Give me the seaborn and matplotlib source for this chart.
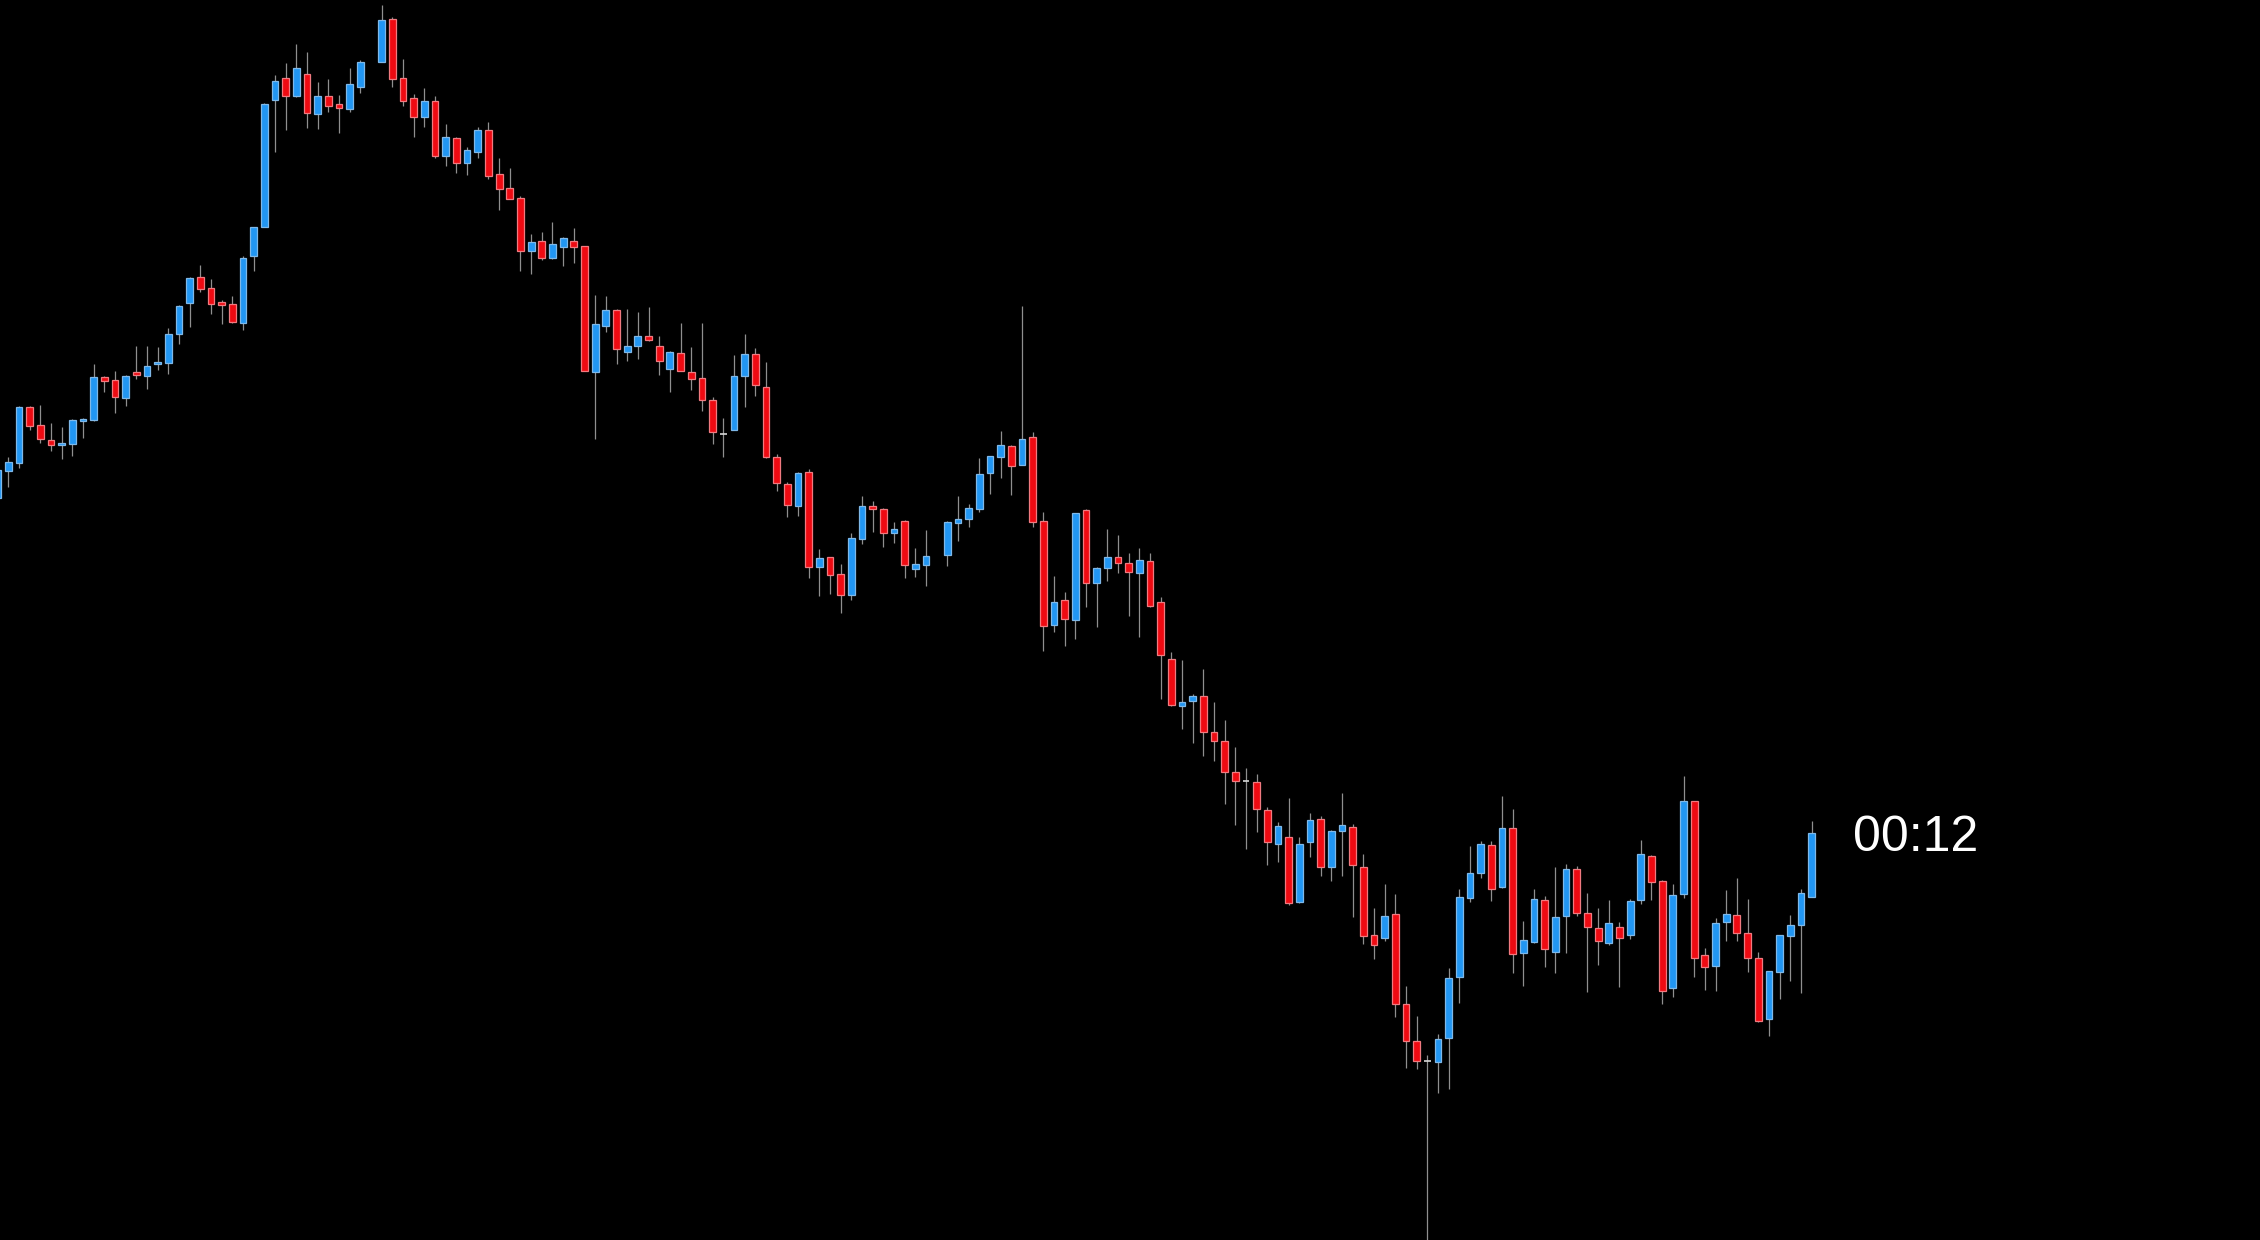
import numpy as np
import pandas as pd
import matplotlib
matplotlib.use("Agg")
import matplotlib.pyplot as plt
import seaborn as sns

# OHLC values (price units); NaN = missing bar
opens = [742, 769, 777, 833, 815, 800, 795, 796, 819, 820, 863, 860, 842, 868, 864, 876, 877, 906, 937, 963,
         952, 938, 936, 917, 984, 1013, 1140, 1162, 1144, 1166, 1126, 1144, 1136, 1131, 1153, np.nan, 1178, 1221, 1162, 1142,
         1123, 1139, 1084, 1102, 1077, 1088, 1110, 1066, 1052, 1042, 989, 999, 982, 993, 999, 994, 868, 914, 930, 888,
         894, 904, 894, 871, 887, 868, 862, 840, 806, 810, 864, 886, 853, 783, 756, 734, 768, 673, 683, 666,
         645, 701, 734, 731, 707, 719, 671, 675, np.nan, 685, 717, 721, 731, 767, 783, 794, 775, 803, 719, 615,
         640, 620, 730, 657, 672, 683, 677, 667, 679, 638, 581, 534, 539, 544, 508, 499, 468, 459, 458, 430,
         396, 403, 338, 398, 421, 373, 409, 413, 373, 305, 302, 326, 236, 199, 179, 178, 202, 263, 342, 367,
         395, 353, 412, 287, 298, 340, 288, 324, 371, 327, 312, 297, 313, 305, 340, 384, 359, 252, 346, 439,
         285, 274, 318, 325, 307, 282, 221, 268, 304, 315, 343]
highs = [773, 783, 834, 834, 835, 817, 813, 821, 822, 876, 864, 869, 865, 894, 894, 893, 912, 935, 963, 975,
         961, 940, 944, 984, 1013, 1137, 1165, 1177, 1196, 1188, 1158, 1161, 1145, 1172, 1180, np.nan, 1235, 1223, 1181, 1146,
         1152, 1144, 1116, 1103, 1093, 1113, 1118, 1082, 1072, 1044, 1006, 1008, 1018, 1003, 1012, 994, 945, 944, 931, 931,
         928, 933, 904, 889, 917, 893, 917, 843, 822, 885, 906, 892, 878, 786, 758, 768, 771, 691, 683, 676,
         707, 744, 739, 732, 718, 720, 692, 710, np.nan, 719, 744, 736, 782, 784, 809, 795, 934, 808, 728, 664,
         648, 727, 731, 673, 711, 705, 687, 692, 687, 643, 588, 580, 546, 571, 538, 520, 493, 472, 466, 433,
         418, 442, 403, 427, 424, 410, 447, 416, 386, 332, 356, 346, 254, 224, 185, 206, 272, 351, 394, 399,
         399, 444, 431, 319, 351, 344, 373, 376, 374, 347, 332, 340, 318, 341, 400, 385, 360, 356, 464, 439,
         292, 322, 350, 362, 341, 288, 269, 305, 325, 351, 419]
lows = [741, 753, 772, 810, 797, 789, 781, 784, 802, 819, 848, 827, 834, 861, 851, 870, 866, 896, 913, 948,
        926, 916, 917, 910, 969, 1013, 1088, 1110, 1143, 1112, 1111, 1128, 1107, 1128, 1147, np.nan, 1178, 1153, 1134, 1103,
        1113, 1082, 1074, 1067, 1065, 1082, 1061, 1030, 1041, 969, 966, 980, 981, 974, 977, 869, 801, 908, 876, 879,
        881, 899, 865, 848, 869, 850, 829, 796, 783, 810, 833, 844, 782, 749, 723, 724, 662, 644, 646, 627,
        640, 696, 708, 693, 697, 662, 663, 654, np.nan, 674, 699, 713, 728, 746, 762, 745, 775, 713, 589, 608,
        594, 601, 633, 613, 659, 667, 624, 603, 633, 541, 534, 511, 497, 484, 479, 436, 415, 391, 408, 375,
        378, 335, 337, 383, 364, 359, 364, 323, 296, 281, 299, 223, 172, 171, -20, 147, 151, 237, 338, 362,
        339, 352, 267, 254, 297, 273, 267, 287, 324, 248, 275, 295, 253, 301, 336, 340, 236, 243, 342, 263,
        250, 249, 299, 299, 268, 218, 204, 241, 259, 247, 343]
closes = [770, 778, 833, 814, 801, 795, 797, 820, 821, 863, 859, 843, 864, 865, 874, 878, 906, 934, 962, 951,
          936, 935, 918, 982, 1013, 1136, 1159, 1144, 1172, 1127, 1144, 1134, 1132, 1156, 1178, np.nan, 1220, 1161, 1139, 1123,
          1139, 1084, 1103, 1077, 1090, 1110, 1064, 1051, 1041, 989, 998, 982, 996, 1002, 993, 869, 916, 930, 891, 894,
          904, 900, 879, 888, 869, 861, 840, 808, 806, 864, 886, 855, 783, 757, 735, 767, 673, 682, 665, 645,
          702, 734, 731, 707, 711, 675, 676, 684, np.nan, 718, 721, 732, 766, 784, 795, 774, 801, 718, 614, 638,
          621, 727, 657, 672, 683, 677, 668, 680, 634, 585, 535, 538, 544, 508, 499, 468, 459, 459, 431, 398,
          414, 337, 396, 420, 373, 409, 415, 375, 304, 295, 324, 236, 199, 179, 179, 201, 262, 343, 367, 396,
          351, 412, 286, 300, 341, 291, 323, 371, 327, 313, 299, 317, 302, 339, 386, 358, 249, 345, 439, 282,
          273, 317, 326, 307, 282, 219, 269, 305, 315, 347, 407]
countdown = "00:12"

df = pd.DataFrame({"open": opens, "high": highs, "low": lows, "close": closes})
df["x"] = np.arange(len(df))
df = df.dropna()

up_col, up_edge = "#2196f3", "#7fb8e8"
dn_col, dn_edge = "#ee0a12", "#f07a80"
wick_col = "#8f8f8f"

sns.set_theme(style="dark", rc={"axes.facecolor": "black", "figure.facecolor": "black"})

fig = plt.figure(figsize=(22.6, 12.4), dpi=100)
ax = fig.add_axes([0, 0, 1, 1])
ax.set_facecolor("black")

# wicks
ax.vlines(df["x"], df["low"], df["high"], color=wick_col, linewidth=0.9, zorder=1)

up = df[df["close"] > df["open"]]
dn = df[df["close"] < df["open"]]
doji = df[df["close"] == df["open"]]
w = 0.63
ax.bar(up["x"], up["close"] - up["open"], bottom=up["open"], width=w,
       color=up_col, edgecolor=up_edge, linewidth=0.9, zorder=2)
ax.bar(dn["x"], dn["open"] - dn["close"], bottom=dn["close"], width=w,
       color=dn_col, edgecolor=dn_edge, linewidth=0.9, zorder=2)
ax.hlines(doji["close"], doji["x"] - w / 2, doji["x"] + w / 2, color="#d8d8d8", linewidth=1.2, zorder=2)

# countdown label next to the last bar
ax.text(df["x"].iloc[-1] + 3.9, df["close"].iloc[-1] - 5, countdown, color="white",
        fontsize=36, va="center", ha="left", family=["Liberation Sans", "DejaVu Sans"])

ax.set_xlim(0.22, 212.03)
ax.set_ylim(0, 1240)
ax.set_xticks([])
ax.set_yticks([])
for s in ax.spines.values():
    s.set_visible(False)

fig.savefig("out.png", dpi=100, facecolor="black")
